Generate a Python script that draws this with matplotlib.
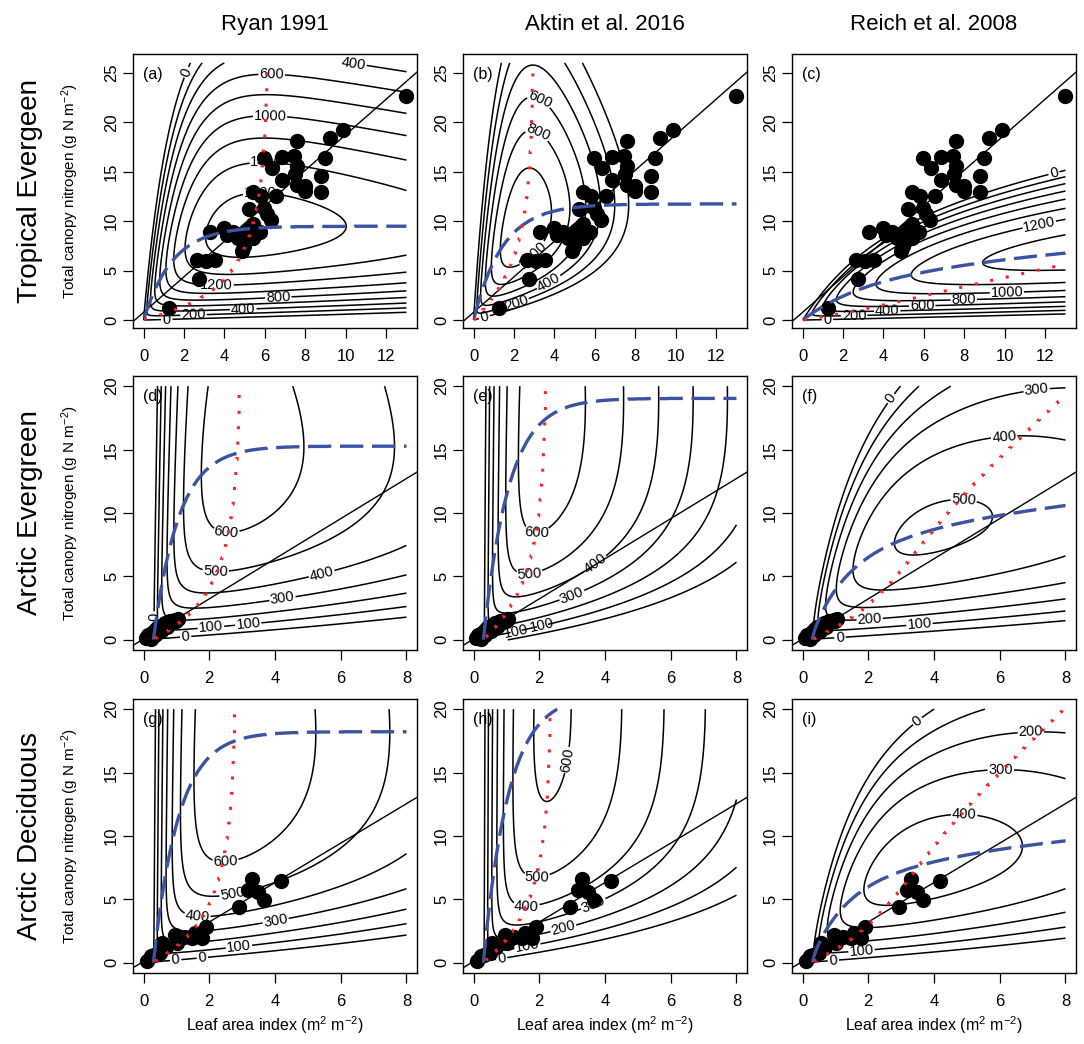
import numpy as np
import matplotlib
matplotlib.use("Agg")
import matplotlib.pyplot as plt

plt.rcParams["font.family"] = "Liberation Sans"
plt.rcParams["mathtext.fontset"] = "custom"
plt.rcParams["mathtext.rm"] = "Liberation Sans"
plt.rcParams["mathtext.it"] = "Liberation Sans:italic"

# observed canopies (leaf area index, total canopy N)
trop_lai = [13.0, 9.84, 9.24, 7.61, 8.96, 5.95, 6.86, 7.43, 6.33, 7.61,
            7.51, 8.75, 6.87, 7.61, 8.0, 7.97, 8.75, 5.43, 5.79, 6.53,
            5.95, 5.23, 6.1, 6.28, 5.43, 3.98, 3.29, 4.44, 4.11, 5.1,
            5.75, 4.69, 5.39, 4.97, 4.85, 2.66, 3.09, 3.54, 2.76, 1.24]
trop_n = [22.7, 19.2, 18.4, 18.1, 16.4, 16.4, 16.5, 16.6, 15.4, 15.6,
          14.8, 14.6, 14.2, 13.7, 13.55, 13.0, 12.9, 12.9, 12.5, 12.5,
          11.3, 11.2, 10.7, 10.1, 9.76, 9.3, 8.9, 8.9, 8.6, 9.1,
          8.9, 8.3, 8.3, 7.45, 6.94, 6.1, 6.0, 6.1, 4.13, 1.19]
aev_lai = [0.07, 0.15, 0.22, 0.28, 0.35, 0.38, 0.45, 0.52, 0.58, 0.65,
           0.72, 0.8, 0.88, 0.95, 1.05, 1.0]
aev_n = [0.15, 0.35, 0.1, 0.6, 0.4, 0.85, 1.0, 0.7, 1.2, 1.35,
         1.05, 1.5, 1.45, 1.6, 1.65, 1.45]
ade_lai = [4.18, 3.29, 3.19, 3.47, 3.68, 2.92, 1.91, 1.58, 1.78, 1.48,
           1.23, 0.95, 1.01, 0.57, 0.68, 0.50, 0.32, 0.22, 0.12]
ade_n = [6.42, 6.62, 5.77, 5.58, 4.94, 4.42, 2.81, 2.39, 1.95, 1.95,
         2.03, 2.21, 1.56, 1.56, 1.25, 0.78, 0.65, 0.52, 0.13]

col_titles = ["Ryan 1991", "Aktin et al. 2016", "Reich et al. 2008"]
row_titles = ["Tropical Evergeen", "Arctic Evergreen", "Arctic Deciduous"]
letters = ["(a)", "(b)", "(c)", "(d)", "(e)", "(f)", "(g)", "(h)", "(i)"]

# canopy photosynthesis per vegetation type
gpp_rows = [
    dict(P=3400, tau=5.0, k=0.7, L0=0.0),
    dict(P=900, tau=4.3, k=1.3, L0=0.3),
    dict(P=900, tau=4.2, k=1.3, L0=0.3),
]
# respiration / cost terms per panel: N term, LAI term, Reich term, exponent
resp = [
    dict(rn=102, rl=32, rq=0, pw=2), dict(rn=65, rl=300, rq=0, pw=2),
    dict(rn=0, rl=30, rq=165, pw=1.85),
    dict(rn=6, rl=37, rq=0, pw=2), dict(rn=2.5, rl=96, rq=0, pw=2),
    dict(rn=0, rl=33, rq=7.6, pw=1.85),
    dict(rn=2.8, rl=45, rq=0, pw=2), dict(rn=1.4, rl=80, rq=0, pw=2),
    dict(rn=0, rl=40.8, rq=10.8, pw=1.75),
]
levels = [np.arange(0, 1801, 200), np.arange(0, 1401, 200), np.arange(0, 1601, 200),
          np.arange(0, 701, 100), np.arange(-100, 701, 100), np.arange(0, 701, 100),
          np.arange(0, 701, 100), np.arange(0, 701, 100), np.arange(0, 701, 100)]
label_pos = [
    [(2.06, 25.1), (1.15, 0.17), (2.47, 0.5), (4.93, 1.19), (6.66, 2.3), (3.62, 3.39),
     (5.75, 12.2), (6.08, 15.6), (6.25, 20.4), (6.33, 24.5), (10.36, 25.6)],
    [(3.0, 21.3), (3.0, 18.3), (2.58, 7.45), (3.65, 4.07), (2.09, 1.86), (0.53, 0.34)],
    [(12.4, 15.1), (11.75, 9.15), (10.1, 2.88), (7.97, 2.2), (5.92, 1.36), (4.19, 0.85),
     (2.55, 0.5), (1.23, 0.17)],
    [(2.49, 7.14), (2.19, 4.55), (5.46, 4.8), (4.25, 2.86), (2.04, 1.3), (3.19, 1.17),
     (1.28, 0.26), (0.07, 1.82)],
    [(1.92, 7.79), (1.72, 4.8), (3.83, 5.58), (3.03, 3.25), (2.07, 1.43), (1.31, 0.52)],
    [(2.6, 19.2), (7.14, 19.35), (6.13, 16.1), (4.92, 11.95), (2.05, 1.3), (3.56, 1.17),
     (1.14, 0.18)],
    [(2.49, 8.18), (2.74, 4.94), (1.63, 3.38), (4.05, 2.86), (2.89, 1.56), (1.78, 0.65),
     (0.98, 0.13)],
    [(2.37, 16.2), (1.92, 7.14), (1.61, 4.42), (3.68, 4.42), (2.77, 2.34), (1.66, 1.04),
     (0.86, 0.26)],
    [(3.41, 19.35), (6.94, 18.7), (6.03, 15.6), (4.92, 11.95), (1.8, 0.78), (0.94, 0.13)],
]


def net_gain(L, N, g, r):
    s = 1 - np.exp(-g["k"] * np.clip(L - g["L0"], 0, None))
    s = np.maximum(s, 1e-9)
    gpp = s * g["P"] * (1 - np.exp(-N / (s * g["tau"])))
    Ls = np.maximum(L, 1e-6)
    R = r["rn"] * N + r["rl"] * L + r["rq"] * Ls * (N / Ls) ** r["pw"]
    return gpp - R


W, H = 1084, 1044
fig = plt.figure(figsize=(W / 100, H / 100), dpi=100)
col_left = [133, 463, 792]
row_bottom = [328, 650, 973]
blue = "#3b53a1"

for i in range(3):
    if i == 0:
        lai, nit = trop_lai, trop_n
        lmax, nmax = 13, 26
        xlim, ylim = (-0.52, 13.52), (-0.8, 26.9)
        xt, yt = np.arange(0, 13, 2), np.arange(0, 26, 5)
    else:
        lai, nit = (aev_lai, aev_n) if i == 1 else (ade_lai, ade_n)
        lmax, nmax = 8, 20
        xlim, ylim = (-0.32, 8.32), (-0.8, 20.8)
        xt, yt = np.arange(0, 9, 2), np.arange(0, 21, 5)
    for j in range(3):
        p = i * 3 + j
        ax = fig.add_axes([col_left[j] / W, 1 - row_bottom[i] / H, 284 / W, 274 / H])
        Lg = np.linspace(0, lmax, 301)
        Ng = np.linspace(0, nmax, 301)
        LL, NN = np.meshgrid(Lg, Ng)
        F = net_gain(LL, NN, gpp_rows[i], resp[p])
        cs = ax.contour(LL, NN, F, levels=levels[p], colors="black",
                        linewidths=1.1, linestyles="solid")
        lab = [v for v in levels[p] if v >= 0]
        ax.clabel(cs, levels=lab, fmt="%d", fontsize=10.5, inline=True,
                  inline_spacing=2, manual=label_pos[p])

        # optimal N for each LAI (blue) and optimal LAI for each N (red)
        Lf = np.linspace(0, lmax, 400)
        Nf = np.linspace(0, nmax, 1201)
        LF, NF = np.meshgrid(Lf, Nf)
        FF = net_gain(LF, NF, gpp_rows[i], resp[p])
        bi = FF.argmax(axis=0)
        ok = (bi > 0) & (bi < len(Nf) - 1)
        ri = FF.argmax(axis=1)
        okr = (ri > 0) & (ri < len(Lf) - 1) & (FF.max(axis=1) > 0)

        ax.plot(lai, nit, "o", color="black", ms=10, zorder=4)
        b1, b0 = np.polyfit(lai, nit, 1)
        ax.axline((0, b0), slope=b1, color="black", lw=1.0, zorder=3)
        ax.plot(Lf[ok], Nf[bi[ok]], color=blue, lw=2.4, ls=(0, (7, 2.6)), zorder=5)
        ax.plot(Lf[ri[okr]], Nf[okr], color="#ff2222", lw=2.2, ls=(0, (1, 4.2)), zorder=5)

        ax.set_xlim(xlim)
        ax.set_ylim(ylim)
        ax.set_xticks(xt)
        ax.set_yticks(yt)
        ax.tick_params(axis="both", direction="out", length=7, width=0.9, labelsize=12)
        ax.tick_params(axis="x", pad=8)
        ax.tick_params(axis="y", pad=3)
        for t in ax.get_yticklabels():
            t.set_rotation(90)
            t.set_va("center")
        for sp in ax.spines.values():
            sp.set_linewidth(1.0)
        ax.text(0.035, 0.927, letters[p], transform=ax.transAxes, fontsize=11.5,
                ha="left", va="center")
        if i == 0:
            ax.set_title(col_titles[j], fontsize=16, pad=17)
        if i == 2:
            ax.set_xlabel("Leaf area index (m$^2$ m$^{-2}$)", fontsize=11.5, labelpad=4)
        if j == 0:
            yc = 1 - (row_bottom[i] - 137) / H
            fig.text(70 / W, yc, "Total canopy nitrogen (g N m$^{-2}$)", rotation=90,
                     ha="center", va="center", fontsize=11)
            fig.text(30 / W, yc, row_titles[i], rotation=90, ha="center", va="center",
                     fontsize=20)

fig.savefig("out.png", dpi=100)
